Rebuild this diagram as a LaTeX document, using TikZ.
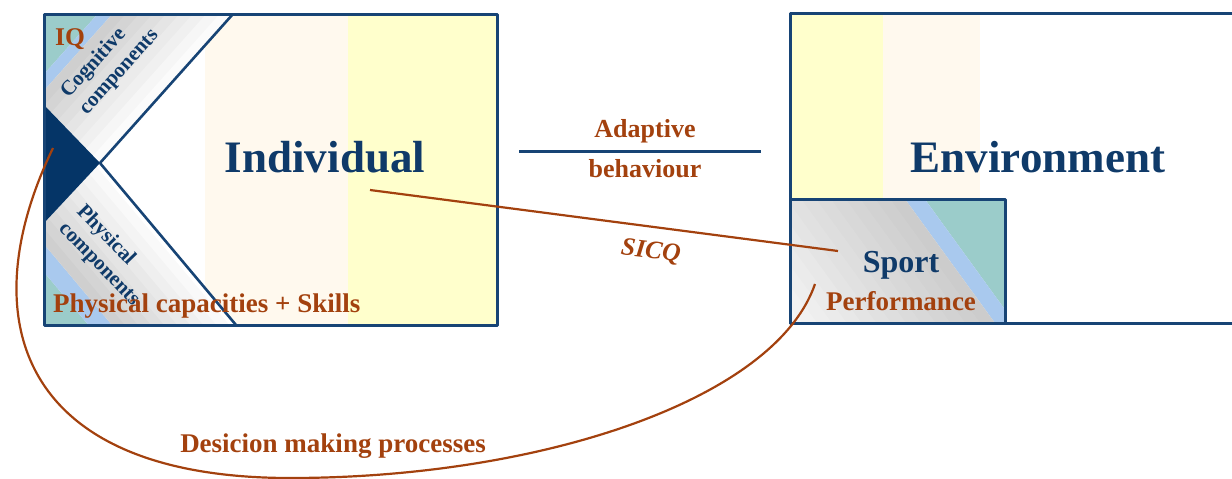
\documentclass[tikz,border=0pt]{standalone}
\usepackage{fontspec}
\setmainfont{Liberation Serif}
\usetikzlibrary{calc}

\definecolor{navy}{HTML}{174475}
\definecolor{ink}{HTML}{0F3A69}
\definecolor{deep}{HTML}{053567}
\definecolor{rust}{HTML}{A3410E}
\definecolor{sea}{HTML}{9BCCCA}
\definecolor{sky}{HTML}{A9C9EE}
\definecolor{lemon}{HTML}{FFFFCC}
\definecolor{cream}{HTML}{FFF9EE}

\newcommand{\band}[3]{\fill[#3] (#1,-300) -- (#2,-300) -- (#2,300) -- (#1,300) -- cycle;}

\begin{document}
\begin{tikzpicture}[x=1pt, y=-1pt, line join=round,
    frame/.style={draw=navy, line width=3pt},
    rim/.style={draw=navy, line width=2.6pt},
    link/.style={draw=rust, line width=2.2pt},
    big/.style={font=\bfseries\fontsize{45}{50}\selectfont, text=ink, inner sep=0pt, anchor=base},
    note/.style={font=\bfseries\fontsize{27}{30}\selectfont, text=rust, inner sep=0pt, anchor=base},
    tilted/.style={font=\bfseries\fontsize{21}{25}\selectfont, text=ink, inner sep=0pt, align=left}]
    \useasboundingbox (0,0) rectangle (1232,479);
    \clip (0,0) rectangle (1232,479);

    % individual box
    \coordinate (indNW) at (44,14);
    \coordinate (indSE) at (497,325);
    \fill[white]  (indNW) rectangle (indSE);
    \fill[cream]  (205,14) rectangle (348,325);
    \fill[lemon]  (348,14) rectangle (indSE);

    % cognitive corner
    \begin{scope}
        \clip (44,14) -- (233,14) -- (100,163) -- (44,105) -- cycle;
        \begin{scope}[shift={(44,14)}, x={(0.746pt,-0.666pt)}, y={(0.666pt,0.746pt)}]
            \band{-5}{40}{sea}
            \band{40}{51}{sky}
            \foreach \i [evaluate=\i as \d using 51+10*\i, evaluate=\i as \e using 61.5+10*\i,
                         evaluate=\i as \g using 19-2.2*\i] in {0,...,8}
                {\band{\d}{\e}{black!\g}}
        \end{scope}
    \end{scope}

    % physical corner
    \begin{scope}
        \clip (44,223) -- (100,163) -- (236,325) -- (44,325) -- cycle;
        \begin{scope}[shift={(44,325)}, x={(0.766pt,0.643pt)}, y={(0.643pt,-0.766pt)}]
            \band{-5}{34}{sea}
            \band{34}{52}{sky}
            \foreach \i [evaluate=\i as \d using 52+10*\i, evaluate=\i as \e using 62.5+10*\i,
                         evaluate=\i as \g using 19-2.1*\i] in {0,...,9}
                {\band{\d}{\e}{black!\g}}
        \end{scope}
    \end{scope}

    \fill[deep] (44,105) -- (100,163) -- (44,223) -- cycle;
    \draw[rim]  (233,14) -- (100,163) -- (236,325);
    \draw[frame] (indNW) rectangle (indSE);

    % environment box
    \coordinate (envNW) at (790,13);
    \coordinate (envSE) at (1250,323);
    \fill[lemon] (790,13) rectangle (883,199);
    \fill[cream] (883,13) rectangle (980,199);

    % sport box
    \coordinate (spNW) at (790,199);
    \coordinate (spSE) at (1005,323);
    \begin{scope}
        \clip (spNW) rectangle (spSE);
        \begin{scope}[shift={(1005,199)}, x={(-0.809pt,-0.587pt)}, y={(0.587pt,-0.809pt)}]
            \band{-5}{65}{sea}
            \band{65}{81}{sky}
            \foreach \i [evaluate=\i as \d using 81+12*\i, evaluate=\i as \e using 93.5+12*\i,
                         evaluate=\i as \g using 20-1.2*\i] in {0,...,14}
                {\band{\d}{\e}{black!\g}}
        \end{scope}
    \end{scope}
    \draw[frame] (envNW) rectangle (envSE);
    \draw[frame] (spNW) rectangle (spSE);

    % labels
    \node[big]                     (indiv)  at (325,172)  {Individual};
    \node[big]                     (env)    at (1038,172) {Environment};
    \node[note, anchor=base west]  (iq)     at (55,45)    {\fontsize{25.5}{28}\selectfont IQ};
    \node[tilted, rotate=48]       (cogn)   at (110,64)   {Cognitive\\components};
    \node[tilted, rotate=-46]      (phys)   at (108,256)  {Physical\\components};
    \node[note, anchor=base west]  (skills) at (53,312)   {Physical capacities + Skills};
    \node[note, text=ink, font=\bfseries\fontsize{32}{34}\selectfont] (sport) at (901,272) {Sport};
    \node[note]                    (perf)   at (901,310)  {Performance};
    \node[note, font=\bfseries\fontsize{26}{28}\selectfont] (adapt) at (645,137) {Adaptive};
    \node[note, font=\bfseries\fontsize{26}{28}\selectfont] (behav) at (645,177) {behaviour};
    \node[note, font=\bfseries\itshape\fontsize{25.5}{28}\selectfont, rotate=-7] (sicq) at (650,258) {SICQ};
    \node[note]                    (dmp)    at (333,452)  {Desicion making processes};

    % connectors
    \coordinate (abL)     at (519,151);
    \coordinate (abR)     at (761,151);
    \coordinate (sicqA)   at (370,190);
    \coordinate (sicqB)   at (838,251);
    \coordinate (dmStart) at (53,148);
    \coordinate (dmLow)   at (290,478);
    \coordinate (dmEnd)   at (815,284);

    \draw[rim, line width=3pt] (abL) -- (abR);
    \draw[link] (sicqA) -- (sicqB);
    \draw[link] (dmStart) .. controls (-30,320) and (20,478) .. (dmLow)
                          .. controls (540,478) and (775,400) .. (dmEnd);
\end{tikzpicture}
\end{document}
